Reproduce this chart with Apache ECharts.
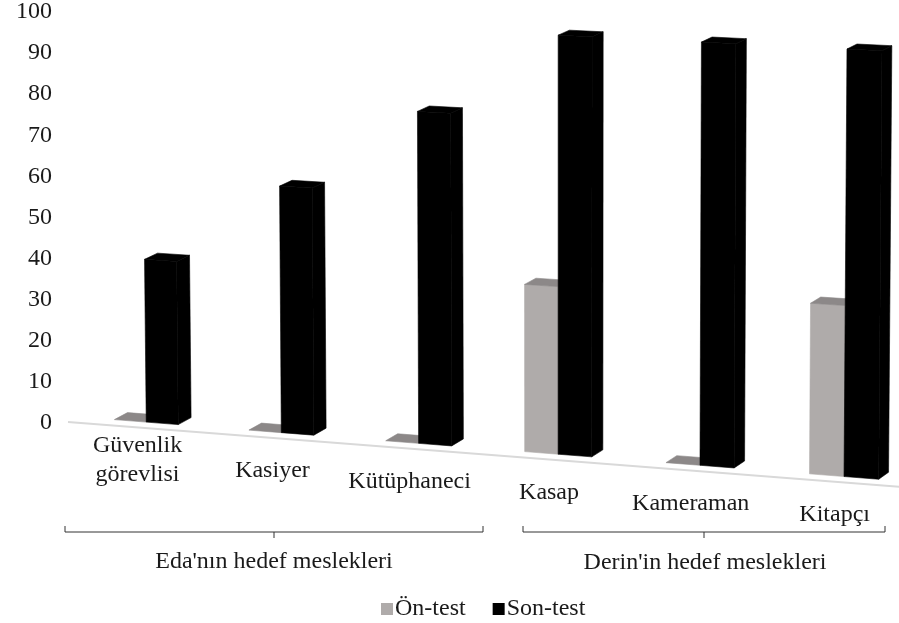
<!DOCTYPE html>
<html>
<head>
<meta charset="utf-8">
<style>
  html, body { margin: 0; padding: 0; background: #fff; }
  #chart { width: 899px; height: 623px; }
</style>
</head>
<body>
<div id="chart"></div>
<script src="https://cdn.jsdelivr.net/npm/echarts@6/dist/echarts.min.js"></script>
<script>
const categories = ['Güvenlik\ngörevlisi', 'Kasiyer', 'Kütüphaneci', 'Kasap', 'Kameraman', 'Kitapçı']
const onTest = [0, 0, 0, 40, 0, 40]
const sonTest = [40, 60, 80, 100, 100, 100]
const seriesNames = ['Ön-test', 'Son-test']
const groupNames = ["Eda'nın hedef meslekleri", "Derin'in hedef meslekleri"]
const yTicks = { min: 0, max: 100, interval: 10 }

const FONT = '"Liberation Serif", "Times New Roman", serif'
const FONT_SIZE = 24
const TEXT_COLOR = '#1a1a1a'
const SLOPE = 0.078 // floor falls to the right
const LEFT = 68
const BAR_W = 33
const BAR_OFFSET = 9

// fake Excel 3D perspective, applied on top of the axis pixel positions
function warp(x) {
  const u = x - 146
  return x - 0.033 * u + 5.87e-5 * u * u
}
function floorY(x, y0) {
  return y0 + SLOPE * (x - LEFT)
}
function project(x, h, depth, y0) {
  const fx = warp(x)
  const grow = 0.99 + (fx - 146) / 696 * 0.05
  const lean = (fx - 560) * 0.000025
  const dx = 13 - (fx - 146) / 696 * 3
  const dy = 7 - h / 412 * 2
  return [
    fx + lean * h + depth * dx,
    floorY(fx, y0) - 7 - h * grow - depth * dy
  ]
}

function barRender(front, side, top, xShift) {
  return function (params, api) {
    const c0 = api.coord([api.value(0), 0])
    const c1 = api.coord([api.value(0), api.value(1)])
    const h = c0[1] - c1[1]
    const l = c0[0] + xShift
    const r = l + BAR_W
    const p = (x, hh, d) => project(x, hh, d, c0[1])
    const face = (pts, color) => ({
      type: 'polygon',
      shape: { points: pts },
      // same colour stroke closes the seams between the faces
      style: { fill: color, stroke: color, lineWidth: 0.6 }
    })
    const children = []
    if (h > 0) {
      children.push(face([p(l, 0, 0), p(r, 0, 0), p(r, h, 0), p(l, h, 0)], front))
      children.push(face([p(r, 0, 0), p(r, 0, 1), p(r, h, 1), p(r, h, 0)], side))
    }
    children.push(face([p(l, h, 0), p(l, h, 1), p(r, h, 1), p(r, h, 0)], top))
    return { type: 'group', children: children }
  }
}

const option = {
  animation: false,
  textStyle: { fontFamily: FONT },
  grid: { left: LEFT, right: 0, top: 11, bottom: 200 },
  legend: {
    data: seriesNames,
    left: 376,
    top: 592,
    icon: 'rect',
    itemWidth: 12,
    itemHeight: 12,
    itemGap: 27,
    textStyle: { fontFamily: FONT, fontSize: FONT_SIZE, color: TEXT_COLOR, padding: [0, 0, 0, -3] }
  },
  xAxis: {
    type: 'category',
    data: categories,
    axisLine: { show: false },
    axisTick: { show: false },
    axisLabel: { show: false }
  },
  yAxis: {
    type: 'value',
    min: yTicks.min,
    max: yTicks.max,
    interval: yTicks.interval,
    axisLine: { show: false },
    axisTick: { show: false },
    splitLine: { show: false },
    axisLabel: { margin: 16, fontFamily: FONT, fontSize: FONT_SIZE, color: TEXT_COLOR }
  },
  graphic: [
    { type: 'polyline', shape: { points: [[65, 526], [65, 532], [483, 532], [483, 526]] }, style: { stroke: '#333', lineWidth: 1, fill: null } },
    { type: 'line', shape: { x1: 274, y1: 532, x2: 274, y2: 538 }, style: { stroke: '#333', lineWidth: 1 } },
    { type: 'polyline', shape: { points: [[523, 526], [523, 532], [885, 532], [885, 526]] }, style: { stroke: '#333', lineWidth: 1, fill: null } },
    { type: 'line', shape: { x1: 704, y1: 532, x2: 704, y2: 538 }, style: { stroke: '#333', lineWidth: 1 } },
    { type: 'text', x: 274, y: 562, style: { text: groupNames[0], font: FONT_SIZE + 'px ' + FONT, fill: TEXT_COLOR, textAlign: 'center', textVerticalAlign: 'middle' } },
    { type: 'text', x: 705, y: 563, style: { text: groupNames[1], font: FONT_SIZE + 'px ' + FONT, fill: TEXT_COLOR, textAlign: 'center', textVerticalAlign: 'middle' } }
  ],
  series: [
    {
      type: 'custom',
      silent: true,
      clip: false,
      data: [[0, 0]],
      encode: { x: 0, y: 1 },
      z: 1,
      renderItem: function (params, api) {
        const c0 = api.coord([0, 0])
        const right = params.coordSys.x + params.coordSys.width
        return {
          type: 'line',
          shape: { x1: LEFT, y1: floorY(LEFT, c0[1]) - 1, x2: right, y2: floorY(right, c0[1]) - 1 },
          style: { stroke: '#d9d9d9', lineWidth: 2 }
        }
      }
    },
    {
      name: seriesNames[0],
      type: 'custom',
      clip: false,
      z: 2,
      itemStyle: { color: '#afabaa' },
      data: onTest.map((v, i) => [i, v]),
      encode: { x: 0, y: 1 },
      renderItem: barRender('#afabaa', '#8c8888', '#8c8888', BAR_OFFSET - BAR_W)
    },
    {
      name: seriesNames[1],
      type: 'custom',
      clip: false,
      z: 3,
      itemStyle: { color: '#000000' },
      data: sonTest.map((v, i) => [i, v]),
      encode: { x: 0, y: 1 },
      renderItem: barRender('#000000', '#000000', '#000000', BAR_OFFSET)
    },
    {
      type: 'custom',
      silent: true,
      clip: false,
      z: 4,
      data: categories.map((c, i) => [i, 0]),
      encode: { x: 0, y: 1 },
      renderItem: function (params, api) {
        const c0 = api.coord([api.value(0), 0])
        const fx = warp(c0[0])
        return {
          type: 'text',
          style: {
            text: categories[params.dataIndex],
            x: fx,
            y: floorY(fx, c0[1]) + 32,
            textAlign: 'center',
            textVerticalAlign: 'middle',
            font: FONT_SIZE + 'px ' + FONT,
            lineHeight: 29,
            fill: TEXT_COLOR
          }
        }
      }
    }
  ]
}

const myChart = echarts.init(document.getElementById('chart'), null, { renderer: 'canvas' })
myChart.setOption(option)
</script>
</body>
</html>
